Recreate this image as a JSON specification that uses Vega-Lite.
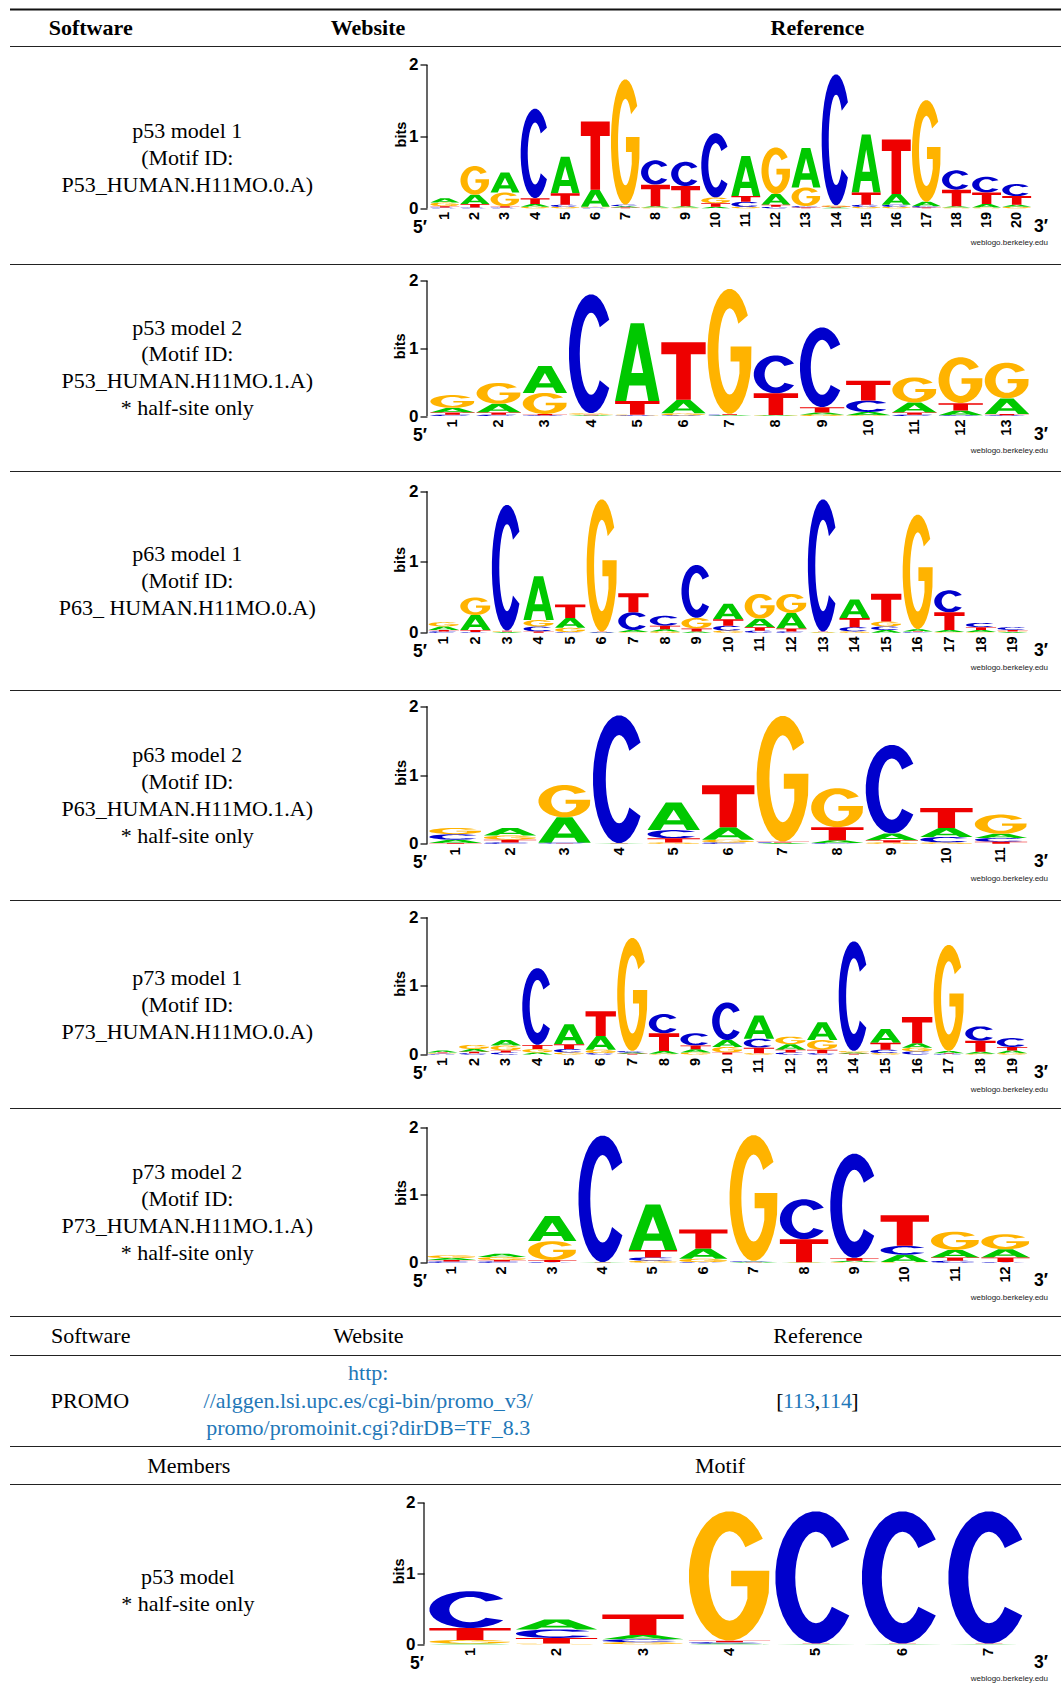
{
"$schema": "https://vega.github.io/schema/vega-lite/v6.json",
"padding": {"left": 9, "top": 8.5, "right": 0, "bottom": 0},
"background": "white",
"config": {"view": {"stroke": null}},
"datasets": {
"glyphs": [
{"letter": "A", "u": [0,0.35,0.65,1,0.75,0.685,0.315,0.367,0.633,0.5,0.367,0.315,0.25,0], "v": [0,1,1,0,0,0.2,0.2,0.36,0.36,0.74,0.36,0.2,0,0]},
{"letter": "T", "u": [0,1,1,0.665,0.665,0.335,0.335,0,0], "v": [1,1,0.79,0.79,0,0,0.79,0.79,1]},
{"letter": "C",
 "u": [0.9096,0.8536,0.7868,0.7113,0.6294,0.5436,0.4564,0.3706,0.2887,0.2132,0.1464,0.0904,0.0468,0.0170,0.0019,0.0019,0.0170,0.0468,0.0904,0.1464,0.2132,0.2887,0.3706,0.4564,0.5436,0.6294,0.7113,0.7868,0.8536,0.9096,0.6953,0.6639,0.6275,0.5872,0.5443,0.5,0.4557,0.4128,0.3725,0.3361,0.3047,0.2792,0.2604,0.2489,0.245,0.2489,0.2604,0.2792,0.3047,0.3361,0.3725,0.4128,0.4557,0.5,0.5443,0.5872,0.6275,0.6639,0.6953],
 "v": [0.7868,0.8536,0.9096,0.9532,0.9830,0.9981,0.9981,0.9830,0.9532,0.9096,0.8536,0.7868,0.7113,0.6294,0.5436,0.4564,0.3706,0.2887,0.2132,0.1464,0.0904,0.0468,0.0170,0.0019,0.0019,0.0170,0.0468,0.0904,0.1464,0.2132,0.2782,0.2357,0.2012,0.1758,0.1602,0.155,0.1602,0.1758,0.2012,0.2357,0.2782,0.3275,0.3820,0.4401,0.5,0.5599,0.6180,0.6725,0.7218,0.7643,0.7988,0.8242,0.8398,0.845,0.8398,0.8242,0.7988,0.7643,0.7218]},
{"letter": "G",
 "u": [0.9096,0.8536,0.7868,0.7113,0.6294,0.5436,0.4564,0.3706,0.2887,0.2132,0.1464,0.0904,0.0468,0.0170,0.0019,0.0019,0.0170,0.0468,0.0904,0.1464,0.2132,0.2887,0.3706,0.4564,0.5436,0.6294,0.7113,0.7868,0.8536,0.9096,0.9532,0.9830,0.99,0.52,0.52,0.72,0.72,0.6953,0.6639,0.6275,0.5872,0.5443,0.5,0.4557,0.4128,0.3725,0.3361,0.3047,0.2792,0.2604,0.2489,0.245,0.2489,0.2604,0.2792,0.3047,0.3361,0.3725,0.4128,0.4557,0.5,0.5443,0.5872,0.6275,0.6639,0.6953],
 "v": [0.7868,0.8536,0.9096,0.9532,0.9830,0.9981,0.9981,0.9830,0.9532,0.9096,0.8536,0.7868,0.7113,0.6294,0.5436,0.4564,0.3706,0.2887,0.2132,0.1464,0.0904,0.0468,0.0170,0.0019,0.0019,0.0170,0.0468,0.0904,0.1464,0.2132,0.2887,0.3706,0.54,0.54,0.42,0.42,0.325,0.2782,0.2357,0.2012,0.1758,0.1602,0.155,0.1602,0.1758,0.2012,0.2357,0.2782,0.3275,0.3820,0.4401,0.5,0.5599,0.6180,0.6725,0.7218,0.7643,0.7988,0.8242,0.8398,0.845,0.8398,0.8242,0.7988,0.7643,0.7218]}
],
"logos": [
{"logo":1,"pos":1,"A":0.06,"C":0.01,"G":0.05,"T":0.02},
{"logo":1,"pos":2,"A":0.13,"C":0.01,"G":0.40,"T":0.05},
{"logo":1,"pos":3,"A":0.28,"C":0.01,"G":0.19,"T":0.02},
{"logo":1,"pos":4,"A":0.04,"C":1.25,"G":0.02,"T":0.08},
{"logo":1,"pos":5,"A":0.51,"C":0.03,"G":0.02,"T":0.16},
{"logo":1,"pos":6,"A":0.24,"C":0.01,"G":0.01,"T":0.95},
{"logo":1,"pos":7,"A":0.02,"C":0.02,"G":1.75,"T":0.01},
{"logo":1,"pos":8,"A":0.02,"C":0.34,"G":0.01,"T":0.30},
{"logo":1,"pos":9,"A":0.02,"C":0.34,"G":0.01,"T":0.28},
{"logo":1,"pos":10,"A":0.02,"C":0.90,"G":0.08,"T":0.05},
{"logo":1,"pos":11,"A":0.56,"C":0.07,"G":0.02,"T":0.08},
{"logo":1,"pos":12,"A":0.15,"C":0.02,"G":0.65,"T":0.03},
{"logo":1,"pos":13,"A":0.55,"C":0.02,"G":0.26,"T":0.01},
{"logo":1,"pos":14,"A":0.01,"C":1.83,"G":0.02,"T":0.01},
{"logo":1,"pos":15,"A":0.81,"C":0.03,"G":0.02,"T":0.17},
{"logo":1,"pos":16,"A":0.15,"C":0.03,"G":0.02,"T":0.76},
{"logo":1,"pos":17,"A":0.06,"C":0.02,"G":1.42,"T":0.01},
{"logo":1,"pos":18,"A":0.02,"C":0.27,"G":0.01,"T":0.23},
{"logo":1,"pos":19,"A":0.05,"C":0.22,"G":0.01,"T":0.16},
{"logo":1,"pos":20,"A":0.03,"C":0.17,"G":0.02,"T":0.12},
{"logo":2,"pos":1,"A":0.07,"C":0.02,"G":0.19,"T":0.03},
{"logo":2,"pos":2,"A":0.13,"C":0.02,"G":0.31,"T":0.03},
{"logo":2,"pos":3,"A":0.40,"C":0.01,"G":0.31,"T":0.02},
{"logo":2,"pos":4,"A":0.01,"C":1.76,"G":0.02,"T":0.01},
{"logo":2,"pos":5,"A":1.15,"C":0.01,"G":0.01,"T":0.20},
{"logo":2,"pos":6,"A":0.20,"C":0.01,"G":0.03,"T":0.85},
{"logo":2,"pos":7,"A":0.01,"C":0.01,"G":1.85,"T":0.01},
{"logo":2,"pos":8,"A":0.01,"C":0.56,"G":0.005,"T":0.32},
{"logo":2,"pos":9,"A":0.03,"C":1.18,"G":0.02,"T":0.08},
{"logo":2,"pos":10,"A":0.05,"C":0.17,"G":0.01,"T":0.29},
{"logo":2,"pos":11,"A":0.15,"C":0.02,"G":0.37,"T":0.03},
{"logo":2,"pos":12,"A":0.07,"C":0.01,"G":0.68,"T":0.11},
{"logo":2,"pos":13,"A":0.23,"C":0.01,"G":0.53,"T":0.02},
{"logo":3,"pos":1,"A":0.05,"C":0.02,"G":0.06,"T":0.02},
{"logo":3,"pos":2,"A":0.21,"C":0.01,"G":0.25,"T":0.03},
{"logo":3,"pos":3,"A":0.01,"C":1.78,"G":0.01,"T":0.01},
{"logo":3,"pos":4,"A":0.62,"C":0.07,"G":0.09,"T":0.02},
{"logo":3,"pos":5,"A":0.14,"C":0.01,"G":0.06,"T":0.19},
{"logo":3,"pos":6,"A":0.005,"C":0.005,"G":1.87,"T":0.005},
{"logo":3,"pos":7,"A":0.03,"C":0.25,"G":0.01,"T":0.27},
{"logo":3,"pos":8,"A":0.03,"C":0.14,"G":0.02,"T":0.05},
{"logo":3,"pos":9,"A":0.02,"C":0.75,"G":0.15,"T":0.04},
{"logo":3,"pos":10,"A":0.22,"C":0.07,"G":0.03,"T":0.09},
{"logo":3,"pos":11,"A":0.12,"C":0.03,"G":0.35,"T":0.05},
{"logo":3,"pos":12,"A":0.22,"C":0.02,"G":0.27,"T":0.04},
{"logo":3,"pos":13,"A":0.005,"C":1.87,"G":0.005,"T":0.005},
{"logo":3,"pos":14,"A":0.26,"C":0.06,"G":0.02,"T":0.13},
{"logo":3,"pos":15,"A":0.04,"C":0.05,"G":0.07,"T":0.39},
{"logo":3,"pos":16,"A":0.03,"C":0.01,"G":1.62,"T":0.01},
{"logo":3,"pos":17,"A":0.03,"C":0.31,"G":0.01,"T":0.25},
{"logo":3,"pos":18,"A":0.03,"C":0.06,"G":0.01,"T":0.04},
{"logo":3,"pos":19,"A":0.01,"C":0.04,"G":0.01,"T":0.02},
{"logo":4,"pos":1,"A":0.05,"C":0.08,"G":0.09,"T":0.01},
{"logo":4,"pos":2,"A":0.11,"C":0.02,"G":0.06,"T":0.04},
{"logo":4,"pos":3,"A":0.37,"C":0.01,"G":0.47,"T":0.005},
{"logo":4,"pos":4,"A":0.003,"C":1.86,"G":0.003,"T":0.003},
{"logo":4,"pos":5,"A":0.40,"C":0.12,"G":0.02,"T":0.06},
{"logo":4,"pos":6,"A":0.18,"C":0.02,"G":0.04,"T":0.61},
{"logo":4,"pos":7,"A":0.01,"C":0.01,"G":1.83,"T":0.01},
{"logo":4,"pos":8,"A":0.04,"C":0.01,"G":0.57,"T":0.19},
{"logo":4,"pos":9,"A":0.10,"C":1.29,"G":0.02,"T":0.03},
{"logo":4,"pos":10,"A":0.13,"C":0.08,"G":0.02,"T":0.29},
{"logo":4,"pos":11,"A":0.06,"C":0.055,"G":0.28,"T":0.03},
{"logo":5,"pos":1,"A":0.03,"C":0.01,"G":0.01,"T":0.01},
{"logo":5,"pos":2,"A":0.04,"C":0.02,"G":0.06,"T":0.02},
{"logo":5,"pos":3,"A":0.08,"C":0.03,"G":0.07,"T":0.03},
{"logo":5,"pos":4,"A":0.03,"C":1.12,"G":0.05,"T":0.06},
{"logo":5,"pos":5,"A":0.29,"C":0.05,"G":0.03,"T":0.07},
{"logo":5,"pos":6,"A":0.20,"C":0.02,"G":0.05,"T":0.36},
{"logo":5,"pos":7,"A":0.02,"C":0.02,"G":1.65,"T":0.01},
{"logo":5,"pos":8,"A":0.04,"C":0.28,"G":0.01,"T":0.26},
{"logo":5,"pos":9,"A":0.045,"C":0.18,"G":0.03,"T":0.055},
{"logo":5,"pos":10,"A":0.10,"C":0.55,"G":0.08,"T":0.03},
{"logo":5,"pos":11,"A":0.34,"C":0.13,"G":0.02,"T":0.08},
{"logo":5,"pos":12,"A":0.08,"C":0.03,"G":0.11,"T":0.04},
{"logo":5,"pos":13,"A":0.26,"C":0.02,"G":0.14,"T":0.05},
{"logo":5,"pos":14,"A":0.02,"C":1.60,"G":0.02,"T":0.01},
{"logo":5,"pos":15,"A":0.20,"C":0.05,"G":0.02,"T":0.10},
{"logo":5,"pos":16,"A":0.065,"C":0.045,"G":0.055,"T":0.38},
{"logo":5,"pos":17,"A":0.03,"C":0.01,"G":1.55,"T":0.01},
{"logo":5,"pos":18,"A":0.03,"C":0.21,"G":0.01,"T":0.16},
{"logo":5,"pos":19,"A":0.04,"C":0.13,"G":0.02,"T":0.05},
{"logo":6,"pos":1,"A":0.03,"C":0.02,"G":0.04,"T":0.02},
{"logo":6,"pos":2,"A":0.05,"C":0.02,"G":0.045,"T":0.02},
{"logo":6,"pos":3,"A":0.37,"C":0.01,"G":0.28,"T":0.03},
{"logo":6,"pos":4,"A":0.003,"C":1.87,"G":0.003,"T":0.003},
{"logo":6,"pos":5,"A":0.67,"C":0.05,"G":0.03,"T":0.11},
{"logo":6,"pos":6,"A":0.15,"C":0.01,"G":0.05,"T":0.28},
{"logo":6,"pos":7,"A":0.01,"C":0.01,"G":1.86,"T":0.005},
{"logo":6,"pos":8,"A":0.005,"C":0.59,"G":0.003,"T":0.34},
{"logo":6,"pos":9,"A":0.02,"C":1.54,"G":0.01,"T":0.04},
{"logo":6,"pos":10,"A":0.11,"C":0.13,"G":0.01,"T":0.45},
{"logo":6,"pos":11,"A":0.11,"C":0.03,"G":0.27,"T":0.05},
{"logo":6,"pos":12,"A":0.12,"C":0.01,"G":0.22,"T":0.07},
{"logo":7,"pos":1,"A":0.01,"C":0.52,"G":0.05,"T":0.17},
{"logo":7,"pos":2,"A":0.14,"C":0.12,"G":0.01,"T":0.08},
{"logo":7,"pos":3,"A":0.06,"C":0.04,"G":0.03,"T":0.29},
{"logo":7,"pos":4,"A":0.01,"C":0.02,"G":1.83,"T":0.02},
{"logo":7,"pos":5,"A":0.003,"C":1.87,"G":0.003,"T":0.003},
{"logo":7,"pos":6,"A":0.003,"C":1.87,"G":0.003,"T":0.003},
{"logo":7,"pos":7,"A":0.003,"C":1.87,"G":0.003,"T":0.003}
]
},
"spacing": 0,
"vconcat": [
{"width": 1052, "height": 2, "data": {"values": [{}]}, "mark": {"type": "rule", "color": "#111", "strokeWidth": 1.8}, "encoding": {"y": {"datum": 0, "type": "quantitative", "scale": {"domain": [-1, 1]}, "axis": null}}},
{"width": 1052, "height": 35, "data": {"values": [{"c1": "Software", "c2": "Website", "c3": "Reference"}]},
 "encoding": {"y": {"datum": 0.5, "type": "quantitative", "scale": {"domain": [0, 1]}, "axis": null}},
 "layer": [
  {"mark": {"type": "text", "font": "Liberation Serif", "fontSize": 22, "fontWeight": "bold", "align": "center", "baseline": "middle", "color": "#000"}, "encoding": {"text": {"field": "c1"}, "x": {"datum": 7.67, "type": "quantitative", "scale": {"domain": [0, 100]}, "axis": null}}},
  {"mark": {"type": "text", "font": "Liberation Serif", "fontSize": 22, "fontWeight": "bold", "align": "center", "baseline": "middle", "color": "#000"}, "encoding": {"text": {"field": "c2"}, "x": {"datum": 34.03, "type": "quantitative", "scale": {"domain": [0, 100]}, "axis": null}}},
  {"mark": {"type": "text", "font": "Liberation Serif", "fontSize": 22, "fontWeight": "bold", "align": "center", "baseline": "middle", "color": "#000"}, "encoding": {"text": {"field": "c3"}, "x": {"datum": 76.75, "type": "quantitative", "scale": {"domain": [0, 100]}, "axis": null}}}
 ]},
{"width": 1052, "height": 2, "data": {"values": [{}]}, "mark": {"type": "rule", "color": "#222", "strokeWidth": 1.2}, "encoding": {"y": {"datum": 0, "type": "quantitative", "scale": {"domain": [-1, 1]}, "axis": null}}},
{"hconcat": [
 {"width": 417, "height": 216, "data": {"values": [{"label": "p53 model 1\n(Motif ID:\nP53_HUMAN.H11MO.0.A)"}]}, "mark": {"type": "text", "font": "Liberation Serif", "fontSize": 22, "lineHeight": 27, "lineBreak": "\n", "align": "center", "baseline": "middle", "color": "#000", "dy": -25}, "encoding": {"text": {"field": "label"}, "x": {"datum": 16.85, "type": "quantitative", "scale": {"domain": [0, 39.64]}, "axis": null}, "y": {"datum": 0.5, "type": "quantitative", "scale": {"domain": [0, 1]}, "axis": null}}},
 {"width": 624, "height": 160.8,
  "encoding": {
    "x": {"type": "quantitative", "scale": {"domain": [0.409, 21.14], "nice": false, "zero": false}, "axis": {"values": [1,2,3,4,5,6,7,8,9,10,11,12,13,14,15,16,17,18,19,20], "format": "d", "labelAngle": 270, "labelAlign": "right", "labelBaseline": "middle", "labelFont": "Liberation Sans", "labelFontWeight": "bold", "labelFontSize": 14.5, "labelColor": "#000", "labelPadding": 3, "ticks": false, "tickSize": 0, "domain": false, "grid": false, "title": null, "labelFlush": false, "labelOverlap": false, "labelSeparation": -100, "labelBound": false}},
    "y": {"type": "quantitative", "scale": {"domain": [0, 2.244], "nice": false, "zero": false}, "axis": {"values": [0,1,2], "format": "d", "labelFont": "Liberation Sans", "labelFontWeight": "bold", "labelFontSize": 17, "labelColor": "#000", "labelPadding": 2, "tickSize": 7, "tickColor": "#000", "tickWidth": 1.2, "domain": false, "grid": false, "title": null, "labelFlush": false, "labelOverlap": false}}
  },
  "layer": [
  {"data": {"name": "logos"}, "transform": [{"filter": "datum.logo == 1"}, {"fold": ["A","C","G","T"], "as": ["letter","bits"]}, {"stack": "bits", "groupby": ["pos"], "sort": [{"field": "bits", "order": "ascending"}], "as": ["y0","y1"]}, {"lookup": "letter", "from": {"data": {"name": "glyphs"}, "key": "letter", "fields": ["u","v"]}}, {"flatten": ["u","v"]}, {"calculate": "datum.pos + (datum.u - 0.5) * 0.96", "as": "gx"}, {"calculate": "datum.y0 + datum.v * (datum.y1 - datum.y0)", "as": "gy"}],
   "mark": {"type": "line", "filled": true, "strokeWidth": 0, "opacity": 1, "fillOpacity": 1},
   "encoding": {
    "x": {"field": "gx"},
    "y": {"field": "gy"},
    "color": {"field": "letter", "type": "nominal", "scale": {"domain": ["A","C","G","T"], "range": ["#00C800","#0000CC","#FFB300","#EE0000"]}, "legend": null},
    "detail": [{"field": "pos", "type": "nominal"}, {"field": "letter", "type": "nominal"}],
    "order": {"value": null}}},
  {"data": {"values": [{}]}, "mark": {"type": "rule", "color": "#000", "strokeWidth": 1.2}, "encoding": {"x": {"datum": 0.409}, "y": {"datum": 0}, "y2": {"datum": 2}}},
  {"data": {"values": [{}]}, "mark": {"type": "text", "text": "bits", "angle": 270, "font": "Liberation Sans", "fontWeight": "bold", "fontSize": 14.5, "align": "center", "baseline": "middle", "color": "#000"}, "encoding": {"x": {"datum": -0.438}, "y": {"datum": 1.03}}},
  {"data": {"values": [{}]}, "mark": {"type": "text", "text": "5\u2032", "font": "Liberation Sans", "fontWeight": "bold", "fontSize": 17.5, "align": "right", "baseline": "middle", "dy": 19.5, "color": "#000"}, "encoding": {"x": {"datum": 0.409}, "y": {"datum": 0}}},
  {"data": {"values": [{}]}, "mark": {"type": "text", "text": "3\u2032", "font": "Liberation Sans", "fontWeight": "bold", "fontSize": 17.5, "align": "right", "baseline": "middle", "dx": -3, "dy": 18.5, "color": "#000"}, "encoding": {"x": {"datum": 21.14}, "y": {"datum": 0}}},
  {"data": {"values": [{}]}, "mark": {"type": "text", "text": "weblogo.berkeley.edu", "font": "Liberation Sans", "fontSize": 8, "align": "right", "baseline": "middle", "dx": -3, "dy": 35, "color": "#222"}, "encoding": {"x": {"datum": 21.14}, "y": {"datum": 0}}}
 ]}
], "spacing": 0, "bounds": "flush"},
{"width": 1052, "height": 2, "data": {"values": [{}]}, "mark": {"type": "rule", "color": "#222", "strokeWidth": 1.2}, "encoding": {"y": {"datum": 0, "type": "quantitative", "scale": {"domain": [-1, 1]}, "axis": null}}},
{"hconcat": [
 {"width": 417, "height": 204.5, "data": {"values": [{"label": "p53 model 2\n(Motif ID:\nP53_HUMAN.H11MO.1.A)\n* half-site only"}]}, "mark": {"type": "text", "font": "Liberation Serif", "fontSize": 22, "lineHeight": 26.8, "lineBreak": "\n", "align": "center", "baseline": "middle", "color": "#000", "dy": -40.2}, "encoding": {"text": {"field": "label"}, "x": {"datum": 16.85, "type": "quantitative", "scale": {"domain": [0, 39.64]}, "axis": null}, "y": {"datum": 0.5, "type": "quantitative", "scale": {"domain": [0, 1]}, "axis": null}}},
 {"width": 624, "height": 150.5,
  "encoding": {
    "x": {"type": "quantitative", "scale": {"domain": [0.448, 13.955], "nice": false, "zero": false}, "axis": {"values": [1,2,3,4,5,6,7,8,9,10,11,12,13], "format": "d", "labelAngle": 270, "labelAlign": "right", "labelBaseline": "middle", "labelFont": "Liberation Sans", "labelFontWeight": "bold", "labelFontSize": 14.5, "labelColor": "#000", "labelPadding": 3, "ticks": false, "tickSize": 0, "domain": false, "grid": false, "title": null, "labelFlush": false, "labelOverlap": false, "labelSeparation": -100, "labelBound": false}},
    "y": {"type": "quantitative", "scale": {"domain": [0, 2.225], "nice": false, "zero": false}, "axis": {"values": [0,1,2], "format": "d", "labelFont": "Liberation Sans", "labelFontWeight": "bold", "labelFontSize": 17, "labelColor": "#000", "labelPadding": 2, "tickSize": 7, "tickColor": "#000", "tickWidth": 1.2, "domain": false, "grid": false, "title": null, "labelFlush": false, "labelOverlap": false}}
  },
  "layer": [
  {"data": {"name": "logos"}, "transform": [{"filter": "datum.logo == 2"}, {"fold": ["A","C","G","T"], "as": ["letter","bits"]}, {"stack": "bits", "groupby": ["pos"], "sort": [{"field": "bits", "order": "ascending"}], "as": ["y0","y1"]}, {"lookup": "letter", "from": {"data": {"name": "glyphs"}, "key": "letter", "fields": ["u","v"]}}, {"flatten": ["u","v"]}, {"calculate": "datum.pos + (datum.u - 0.5) * 0.96", "as": "gx"}, {"calculate": "datum.y0 + datum.v * (datum.y1 - datum.y0)", "as": "gy"}],
   "mark": {"type": "line", "filled": true, "strokeWidth": 0, "opacity": 1, "fillOpacity": 1},
   "encoding": {
    "x": {"field": "gx"},
    "y": {"field": "gy"},
    "color": {"field": "letter", "type": "nominal", "scale": {"domain": ["A","C","G","T"], "range": ["#00C800","#0000CC","#FFB300","#EE0000"]}, "legend": null},
    "detail": [{"field": "pos", "type": "nominal"}, {"field": "letter", "type": "nominal"}],
    "order": {"value": null}}},
  {"data": {"values": [{}]}, "mark": {"type": "rule", "color": "#000", "strokeWidth": 1.2}, "encoding": {"x": {"datum": 0.448}, "y": {"datum": 0}, "y2": {"datum": 2}}},
  {"data": {"values": [{}]}, "mark": {"type": "text", "text": "bits", "angle": 270, "font": "Liberation Sans", "fontWeight": "bold", "fontSize": 14.5, "align": "center", "baseline": "middle", "color": "#000"}, "encoding": {"x": {"datum": -0.104}, "y": {"datum": 1.03}}},
  {"data": {"values": [{}]}, "mark": {"type": "text", "text": "5\u2032", "font": "Liberation Sans", "fontWeight": "bold", "fontSize": 17.5, "align": "right", "baseline": "middle", "dy": 19.5, "color": "#000"}, "encoding": {"x": {"datum": 0.448}, "y": {"datum": 0}}},
  {"data": {"values": [{}]}, "mark": {"type": "text", "text": "3\u2032", "font": "Liberation Sans", "fontWeight": "bold", "fontSize": 17.5, "align": "right", "baseline": "middle", "dx": -3, "dy": 18.5, "color": "#000"}, "encoding": {"x": {"datum": 13.955}, "y": {"datum": 0}}},
  {"data": {"values": [{}]}, "mark": {"type": "text", "text": "weblogo.berkeley.edu", "font": "Liberation Sans", "fontSize": 8, "align": "right", "baseline": "middle", "dx": -3, "dy": 35, "color": "#222"}, "encoding": {"x": {"datum": 13.955}, "y": {"datum": 0}}}
 ]}
], "spacing": 0, "bounds": "flush"},
{"width": 1052, "height": 2, "data": {"values": [{}]}, "mark": {"type": "rule", "color": "#222", "strokeWidth": 1.2}, "encoding": {"y": {"datum": 0, "type": "quantitative", "scale": {"domain": [-1, 1]}, "axis": null}}},
{"hconcat": [
 {"width": 417, "height": 217, "data": {"values": [{"label": "p63 model 1\n(Motif ID:\nP63_ HUMAN.H11MO.0.A)"}]}, "mark": {"type": "text", "font": "Liberation Serif", "fontSize": 22, "lineHeight": 27, "lineBreak": "\n", "align": "center", "baseline": "middle", "color": "#000", "dy": -27}, "encoding": {"text": {"field": "label"}, "x": {"datum": 16.85, "type": "quantitative", "scale": {"domain": [0, 39.64]}, "axis": null}, "y": {"datum": 0.5, "type": "quantitative", "scale": {"domain": [0, 1]}, "axis": null}}},
 {"width": 624, "height": 160.3,
  "encoding": {
    "x": {"type": "quantitative", "scale": {"domain": [0.468, 20.215], "nice": false, "zero": false}, "axis": {"values": [1,2,3,4,5,6,7,8,9,10,11,12,13,14,15,16,17,18,19], "format": "d", "labelAngle": 270, "labelAlign": "right", "labelBaseline": "middle", "labelFont": "Liberation Sans", "labelFontWeight": "bold", "labelFontSize": 14.5, "labelColor": "#000", "labelPadding": 3, "ticks": false, "tickSize": 0, "domain": false, "grid": false, "title": null, "labelFlush": false, "labelOverlap": false, "labelSeparation": -100, "labelBound": false}},
    "y": {"type": "quantitative", "scale": {"domain": [0, 2.264], "nice": false, "zero": false}, "axis": {"values": [0,1,2], "format": "d", "labelFont": "Liberation Sans", "labelFontWeight": "bold", "labelFontSize": 17, "labelColor": "#000", "labelPadding": 2, "tickSize": 7, "tickColor": "#000", "tickWidth": 1.2, "domain": false, "grid": false, "title": null, "labelFlush": false, "labelOverlap": false}}
  },
  "layer": [
  {"data": {"name": "logos"}, "transform": [{"filter": "datum.logo == 3"}, {"fold": ["A","C","G","T"], "as": ["letter","bits"]}, {"stack": "bits", "groupby": ["pos"], "sort": [{"field": "bits", "order": "ascending"}], "as": ["y0","y1"]}, {"lookup": "letter", "from": {"data": {"name": "glyphs"}, "key": "letter", "fields": ["u","v"]}}, {"flatten": ["u","v"]}, {"calculate": "datum.pos + (datum.u - 0.5) * 0.96", "as": "gx"}, {"calculate": "datum.y0 + datum.v * (datum.y1 - datum.y0)", "as": "gy"}],
   "mark": {"type": "line", "filled": true, "strokeWidth": 0, "opacity": 1, "fillOpacity": 1},
   "encoding": {
    "x": {"field": "gx"},
    "y": {"field": "gy"},
    "color": {"field": "letter", "type": "nominal", "scale": {"domain": ["A","C","G","T"], "range": ["#00C800","#0000CC","#FFB300","#EE0000"]}, "legend": null},
    "detail": [{"field": "pos", "type": "nominal"}, {"field": "letter", "type": "nominal"}],
    "order": {"value": null}}},
  {"data": {"values": [{}]}, "mark": {"type": "rule", "color": "#000", "strokeWidth": 1.2}, "encoding": {"x": {"datum": 0.468}, "y": {"datum": 0}, "y2": {"datum": 2}}},
  {"data": {"values": [{}]}, "mark": {"type": "text", "text": "bits", "angle": 270, "font": "Liberation Sans", "fontWeight": "bold", "fontSize": 14.5, "align": "center", "baseline": "middle", "color": "#000"}, "encoding": {"x": {"datum": -0.339}, "y": {"datum": 1.03}}},
  {"data": {"values": [{}]}, "mark": {"type": "text", "text": "5\u2032", "font": "Liberation Sans", "fontWeight": "bold", "fontSize": 17.5, "align": "right", "baseline": "middle", "dy": 19.5, "color": "#000"}, "encoding": {"x": {"datum": 0.468}, "y": {"datum": 0}}},
  {"data": {"values": [{}]}, "mark": {"type": "text", "text": "3\u2032", "font": "Liberation Sans", "fontWeight": "bold", "fontSize": 17.5, "align": "right", "baseline": "middle", "dx": -3, "dy": 18.5, "color": "#000"}, "encoding": {"x": {"datum": 20.215}, "y": {"datum": 0}}},
  {"data": {"values": [{}]}, "mark": {"type": "text", "text": "weblogo.berkeley.edu", "font": "Liberation Sans", "fontSize": 8, "align": "right", "baseline": "middle", "dx": -3, "dy": 35, "color": "#222"}, "encoding": {"x": {"datum": 20.215}, "y": {"datum": 0}}}
 ]}
], "spacing": 0, "bounds": "flush"},
{"width": 1052, "height": 2, "data": {"values": [{}]}, "mark": {"type": "rule", "color": "#222", "strokeWidth": 1.2}, "encoding": {"y": {"datum": 0, "type": "quantitative", "scale": {"domain": [-1, 1]}, "axis": null}}},
{"hconcat": [
 {"width": 417, "height": 208, "data": {"values": [{"label": "p63 model 2\n(Motif ID:\nP63_HUMAN.H11MO.1.A)\n* half-site only"}]}, "mark": {"type": "text", "font": "Liberation Serif", "fontSize": 22, "lineHeight": 26.8, "lineBreak": "\n", "align": "center", "baseline": "middle", "color": "#000", "dy": -40.2}, "encoding": {"text": {"field": "label"}, "x": {"datum": 16.85, "type": "quantitative", "scale": {"domain": [0, 39.64]}, "axis": null}, "y": {"datum": 0.5, "type": "quantitative", "scale": {"domain": [0, 1]}, "axis": null}}},
 {"width": 624, "height": 152.3,
  "encoding": {
    "x": {"type": "quantitative", "scale": {"domain": [0.478, 11.917], "nice": false, "zero": false}, "axis": {"values": [1,2,3,4,5,6,7,8,9,10,11], "format": "d", "labelAngle": 270, "labelAlign": "right", "labelBaseline": "middle", "labelFont": "Liberation Sans", "labelFontWeight": "bold", "labelFontSize": 14.5, "labelColor": "#000", "labelPadding": 3, "ticks": false, "tickSize": 0, "domain": false, "grid": false, "title": null, "labelFlush": false, "labelOverlap": false, "labelSeparation": -100, "labelBound": false}},
    "y": {"type": "quantitative", "scale": {"domain": [0, 2.214], "nice": false, "zero": false}, "axis": {"values": [0,1,2], "format": "d", "labelFont": "Liberation Sans", "labelFontWeight": "bold", "labelFontSize": 17, "labelColor": "#000", "labelPadding": 2, "tickSize": 7, "tickColor": "#000", "tickWidth": 1.2, "domain": false, "grid": false, "title": null, "labelFlush": false, "labelOverlap": false}}
  },
  "layer": [
  {"data": {"name": "logos"}, "transform": [{"filter": "datum.logo == 4"}, {"fold": ["A","C","G","T"], "as": ["letter","bits"]}, {"stack": "bits", "groupby": ["pos"], "sort": [{"field": "bits", "order": "ascending"}], "as": ["y0","y1"]}, {"lookup": "letter", "from": {"data": {"name": "glyphs"}, "key": "letter", "fields": ["u","v"]}}, {"flatten": ["u","v"]}, {"calculate": "datum.pos + (datum.u - 0.5) * 0.96", "as": "gx"}, {"calculate": "datum.y0 + datum.v * (datum.y1 - datum.y0)", "as": "gy"}],
   "mark": {"type": "line", "filled": true, "strokeWidth": 0, "opacity": 1, "fillOpacity": 1},
   "encoding": {
    "x": {"field": "gx"},
    "y": {"field": "gy"},
    "color": {"field": "letter", "type": "nominal", "scale": {"domain": ["A","C","G","T"], "range": ["#00C800","#0000CC","#FFB300","#EE0000"]}, "legend": null},
    "detail": [{"field": "pos", "type": "nominal"}, {"field": "letter", "type": "nominal"}],
    "order": {"value": null}}},
  {"data": {"values": [{}]}, "mark": {"type": "rule", "color": "#000", "strokeWidth": 1.2}, "encoding": {"x": {"datum": 0.478}, "y": {"datum": 0}, "y2": {"datum": 2}}},
  {"data": {"values": [{}]}, "mark": {"type": "text", "text": "bits", "angle": 270, "font": "Liberation Sans", "fontWeight": "bold", "fontSize": 14.5, "align": "center", "baseline": "middle", "color": "#000"}, "encoding": {"x": {"datum": 0.011}, "y": {"datum": 1.03}}},
  {"data": {"values": [{}]}, "mark": {"type": "text", "text": "5\u2032", "font": "Liberation Sans", "fontWeight": "bold", "fontSize": 17.5, "align": "right", "baseline": "middle", "dy": 19.5, "color": "#000"}, "encoding": {"x": {"datum": 0.478}, "y": {"datum": 0}}},
  {"data": {"values": [{}]}, "mark": {"type": "text", "text": "3\u2032", "font": "Liberation Sans", "fontWeight": "bold", "fontSize": 17.5, "align": "right", "baseline": "middle", "dx": -3, "dy": 18.5, "color": "#000"}, "encoding": {"x": {"datum": 11.917}, "y": {"datum": 0}}},
  {"data": {"values": [{}]}, "mark": {"type": "text", "text": "weblogo.berkeley.edu", "font": "Liberation Sans", "fontSize": 8, "align": "right", "baseline": "middle", "dx": -3, "dy": 35, "color": "#222"}, "encoding": {"x": {"datum": 11.917}, "y": {"datum": 0}}}
 ]}
], "spacing": 0, "bounds": "flush"},
{"width": 1052, "height": 2, "data": {"values": [{}]}, "mark": {"type": "rule", "color": "#222", "strokeWidth": 1.2}, "encoding": {"y": {"datum": 0, "type": "quantitative", "scale": {"domain": [-1, 1]}, "axis": null}}},
{"hconcat": [
 {"width": 417, "height": 206, "data": {"values": [{"label": "p73 model 1\n(Motif ID:\nP73_HUMAN.H11MO.0.A)"}]}, "mark": {"type": "text", "font": "Liberation Serif", "fontSize": 22, "lineHeight": 27, "lineBreak": "\n", "align": "center", "baseline": "middle", "color": "#000", "dy": -27}, "encoding": {"text": {"field": "label"}, "x": {"datum": 16.85, "type": "quantitative", "scale": {"domain": [0, 39.64]}, "axis": null}, "y": {"datum": 0.5, "type": "quantitative", "scale": {"domain": [0, 1]}, "axis": null}}},
 {"width": 624, "height": 153,
  "encoding": {
    "x": {"type": "quantitative", "scale": {"domain": [0.51, 20.23], "nice": false, "zero": false}, "axis": {"values": [1,2,3,4,5,6,7,8,9,10,11,12,13,14,15,16,17,18,19], "format": "d", "labelAngle": 270, "labelAlign": "right", "labelBaseline": "middle", "labelFont": "Liberation Sans", "labelFontWeight": "bold", "labelFontSize": 14.5, "labelColor": "#000", "labelPadding": 3, "ticks": false, "tickSize": 0, "domain": false, "grid": false, "title": null, "labelFlush": false, "labelOverlap": false, "labelSeparation": -100, "labelBound": false}},
    "y": {"type": "quantitative", "scale": {"domain": [0, 2.229], "nice": false, "zero": false}, "axis": {"values": [0,1,2], "format": "d", "labelFont": "Liberation Sans", "labelFontWeight": "bold", "labelFontSize": 17, "labelColor": "#000", "labelPadding": 2, "tickSize": 7, "tickColor": "#000", "tickWidth": 1.2, "domain": false, "grid": false, "title": null, "labelFlush": false, "labelOverlap": false}}
  },
  "layer": [
  {"data": {"name": "logos"}, "transform": [{"filter": "datum.logo == 5"}, {"fold": ["A","C","G","T"], "as": ["letter","bits"]}, {"stack": "bits", "groupby": ["pos"], "sort": [{"field": "bits", "order": "ascending"}], "as": ["y0","y1"]}, {"lookup": "letter", "from": {"data": {"name": "glyphs"}, "key": "letter", "fields": ["u","v"]}}, {"flatten": ["u","v"]}, {"calculate": "datum.pos + (datum.u - 0.5) * 0.96", "as": "gx"}, {"calculate": "datum.y0 + datum.v * (datum.y1 - datum.y0)", "as": "gy"}],
   "mark": {"type": "line", "filled": true, "strokeWidth": 0, "opacity": 1, "fillOpacity": 1},
   "encoding": {
    "x": {"field": "gx"},
    "y": {"field": "gy"},
    "color": {"field": "letter", "type": "nominal", "scale": {"domain": ["A","C","G","T"], "range": ["#00C800","#0000CC","#FFB300","#EE0000"]}, "legend": null},
    "detail": [{"field": "pos", "type": "nominal"}, {"field": "letter", "type": "nominal"}],
    "order": {"value": null}}},
  {"data": {"values": [{}]}, "mark": {"type": "rule", "color": "#000", "strokeWidth": 1.2}, "encoding": {"x": {"datum": 0.51}, "y": {"datum": 0}, "y2": {"datum": 2}}},
  {"data": {"values": [{}]}, "mark": {"type": "text", "text": "bits", "angle": 270, "font": "Liberation Sans", "fontWeight": "bold", "fontSize": 14.5, "align": "center", "baseline": "middle", "color": "#000"}, "encoding": {"x": {"datum": -0.296}, "y": {"datum": 1.03}}},
  {"data": {"values": [{}]}, "mark": {"type": "text", "text": "5\u2032", "font": "Liberation Sans", "fontWeight": "bold", "fontSize": 17.5, "align": "right", "baseline": "middle", "dy": 19.5, "color": "#000"}, "encoding": {"x": {"datum": 0.51}, "y": {"datum": 0}}},
  {"data": {"values": [{}]}, "mark": {"type": "text", "text": "3\u2032", "font": "Liberation Sans", "fontWeight": "bold", "fontSize": 17.5, "align": "right", "baseline": "middle", "dx": -3, "dy": 18.5, "color": "#000"}, "encoding": {"x": {"datum": 20.23}, "y": {"datum": 0}}},
  {"data": {"values": [{}]}, "mark": {"type": "text", "text": "weblogo.berkeley.edu", "font": "Liberation Sans", "fontSize": 8, "align": "right", "baseline": "middle", "dx": -3, "dy": 35, "color": "#222"}, "encoding": {"x": {"datum": 20.23}, "y": {"datum": 0}}}
 ]}
], "spacing": 0, "bounds": "flush"},
{"width": 1052, "height": 2, "data": {"values": [{}]}, "mark": {"type": "rule", "color": "#222", "strokeWidth": 1.2}, "encoding": {"y": {"datum": 0, "type": "quantitative", "scale": {"domain": [-1, 1]}, "axis": null}}},
{"hconcat": [
 {"width": 417, "height": 206, "data": {"values": [{"label": "p73 model 2\n(Motif ID:\nP73_HUMAN.H11MO.1.A)\n* half-site only"}]}, "mark": {"type": "text", "font": "Liberation Serif", "fontSize": 22, "lineHeight": 26.8, "lineBreak": "\n", "align": "center", "baseline": "middle", "color": "#000", "dy": -40.2}, "encoding": {"text": {"field": "label"}, "x": {"datum": 16.85, "type": "quantitative", "scale": {"domain": [0, 39.64]}, "axis": null}, "y": {"datum": 0.5, "type": "quantitative", "scale": {"domain": [0, 1]}, "axis": null}}},
 {"width": 624, "height": 153.3,
  "encoding": {
    "x": {"type": "quantitative", "scale": {"domain": [0.513, 12.904], "nice": false, "zero": false}, "axis": {"values": [1,2,3,4,5,6,7,8,9,10,11,12], "format": "d", "labelAngle": 270, "labelAlign": "right", "labelBaseline": "middle", "labelFont": "Liberation Sans", "labelFontWeight": "bold", "labelFontSize": 14.5, "labelColor": "#000", "labelPadding": 3, "ticks": false, "tickSize": 0, "domain": false, "grid": false, "title": null, "labelFlush": false, "labelOverlap": false, "labelSeparation": -100, "labelBound": false}},
    "y": {"type": "quantitative", "scale": {"domain": [0, 2.261], "nice": false, "zero": false}, "axis": {"values": [0,1,2], "format": "d", "labelFont": "Liberation Sans", "labelFontWeight": "bold", "labelFontSize": 17, "labelColor": "#000", "labelPadding": 2, "tickSize": 7, "tickColor": "#000", "tickWidth": 1.2, "domain": false, "grid": false, "title": null, "labelFlush": false, "labelOverlap": false}}
  },
  "layer": [
  {"data": {"name": "logos"}, "transform": [{"filter": "datum.logo == 6"}, {"fold": ["A","C","G","T"], "as": ["letter","bits"]}, {"stack": "bits", "groupby": ["pos"], "sort": [{"field": "bits", "order": "ascending"}], "as": ["y0","y1"]}, {"lookup": "letter", "from": {"data": {"name": "glyphs"}, "key": "letter", "fields": ["u","v"]}}, {"flatten": ["u","v"]}, {"calculate": "datum.pos + (datum.u - 0.5) * 0.96", "as": "gx"}, {"calculate": "datum.y0 + datum.v * (datum.y1 - datum.y0)", "as": "gy"}],
   "mark": {"type": "line", "filled": true, "strokeWidth": 0, "opacity": 1, "fillOpacity": 1},
   "encoding": {
    "x": {"field": "gx"},
    "y": {"field": "gy"},
    "color": {"field": "letter", "type": "nominal", "scale": {"domain": ["A","C","G","T"], "range": ["#00C800","#0000CC","#FFB300","#EE0000"]}, "legend": null},
    "detail": [{"field": "pos", "type": "nominal"}, {"field": "letter", "type": "nominal"}],
    "order": {"value": null}}},
  {"data": {"values": [{}]}, "mark": {"type": "rule", "color": "#000", "strokeWidth": 1.2}, "encoding": {"x": {"datum": 0.513}, "y": {"datum": 0}, "y2": {"datum": 2}}},
  {"data": {"values": [{}]}, "mark": {"type": "text", "text": "bits", "angle": 270, "font": "Liberation Sans", "fontWeight": "bold", "fontSize": 14.5, "align": "center", "baseline": "middle", "color": "#000"}, "encoding": {"x": {"datum": 0.007}, "y": {"datum": 1.03}}},
  {"data": {"values": [{}]}, "mark": {"type": "text", "text": "5\u2032", "font": "Liberation Sans", "fontWeight": "bold", "fontSize": 17.5, "align": "right", "baseline": "middle", "dy": 19.5, "color": "#000"}, "encoding": {"x": {"datum": 0.513}, "y": {"datum": 0}}},
  {"data": {"values": [{}]}, "mark": {"type": "text", "text": "3\u2032", "font": "Liberation Sans", "fontWeight": "bold", "fontSize": 17.5, "align": "right", "baseline": "middle", "dx": -3, "dy": 18.5, "color": "#000"}, "encoding": {"x": {"datum": 12.904}, "y": {"datum": 0}}},
  {"data": {"values": [{}]}, "mark": {"type": "text", "text": "weblogo.berkeley.edu", "font": "Liberation Sans", "fontSize": 8, "align": "right", "baseline": "middle", "dx": -3, "dy": 35, "color": "#222"}, "encoding": {"x": {"datum": 12.904}, "y": {"datum": 0}}}
 ]}
], "spacing": 0, "bounds": "flush"},
{"width": 1052, "height": 2, "data": {"values": [{}]}, "mark": {"type": "rule", "color": "#222", "strokeWidth": 1.2}, "encoding": {"y": {"datum": 0, "type": "quantitative", "scale": {"domain": [-1, 1]}, "axis": null}}},
{"width": 1052, "height": 37, "data": {"values": [{"c1": "Software", "c2": "Website", "c3": "Reference"}]},
 "encoding": {"y": {"datum": 0.5, "type": "quantitative", "scale": {"domain": [0, 1]}, "axis": null}},
 "layer": [
  {"mark": {"type": "text", "font": "Liberation Serif", "fontSize": 22, "align": "center", "baseline": "middle", "color": "#000"}, "encoding": {"text": {"field": "c1"}, "x": {"datum": 7.67, "type": "quantitative", "scale": {"domain": [0, 100]}, "axis": null}}},
  {"mark": {"type": "text", "font": "Liberation Serif", "fontSize": 22, "align": "center", "baseline": "middle", "color": "#000"}, "encoding": {"text": {"field": "c2"}, "x": {"datum": 34.07, "type": "quantitative", "scale": {"domain": [0, 100]}, "axis": null}}},
  {"mark": {"type": "text", "font": "Liberation Serif", "fontSize": 22, "align": "center", "baseline": "middle", "color": "#000"}, "encoding": {"text": {"field": "c3"}, "x": {"datum": 76.8, "type": "quantitative", "scale": {"domain": [0, 100]}, "axis": null}}}
 ]},
{"width": 1052, "height": 2, "data": {"values": [{}]}, "mark": {"type": "rule", "color": "#222", "strokeWidth": 1.2}, "encoding": {"y": {"datum": 0, "type": "quantitative", "scale": {"domain": [-1, 1]}, "axis": null}}},
{"width": 1052, "height": 88.5, "data": {"values": [{"sw": "PROMO", "url": "http:\n//alggen.lsi.upc.es/cgi-bin/promo_v3/\npromo/promoinit.cgi?dirDB=TF_8.3", "lb": "[", "r1": "113", "cm": ",", "r2": "114", "rb": "]"}]},
 "encoding": {"y": {"datum": 0.5, "type": "quantitative", "scale": {"domain": [0, 1]}, "axis": null}},
 "layer": [
  {"mark": {"type": "text", "font": "Liberation Serif", "fontSize": 22, "align": "center", "baseline": "middle", "color": "#000"}, "encoding": {"text": {"field": "sw"}, "x": {"datum": 7.6, "type": "quantitative", "scale": {"domain": [0, 100]}, "axis": null}}},
  {"mark": {"type": "text", "font": "Liberation Serif", "fontSize": 22, "lineHeight": 27.5, "lineBreak": "\n", "align": "center", "baseline": "middle", "color": "#1F78B8", "dy": -27.5}, "encoding": {"text": {"field": "url"}, "x": {"datum": 34.05, "type": "quantitative", "scale": {"domain": [0, 100]}, "axis": null}}},
  {"mark": {"type": "text", "font": "Liberation Serif", "fontSize": 22, "align": "center", "baseline": "middle", "color": "#000", "dx": -37.6}, "encoding": {"text": {"field": "lb"}, "x": {"datum": 76.75, "type": "quantitative", "scale": {"domain": [0, 100]}, "axis": null}}},
  {"mark": {"type": "text", "font": "Liberation Serif", "fontSize": 22, "align": "center", "baseline": "middle", "color": "#1F78B8", "dx": -18.4}, "encoding": {"text": {"field": "r1"}, "x": {"datum": 76.75, "type": "quantitative", "scale": {"domain": [0, 100]}, "axis": null}}},
  {"mark": {"type": "text", "font": "Liberation Serif", "fontSize": 22, "align": "center", "baseline": "middle", "color": "#000"}, "encoding": {"text": {"field": "cm"}, "x": {"datum": 76.75, "type": "quantitative", "scale": {"domain": [0, 100]}, "axis": null}}},
  {"mark": {"type": "text", "font": "Liberation Serif", "fontSize": 22, "align": "center", "baseline": "middle", "color": "#1F78B8", "dx": 18.4}, "encoding": {"text": {"field": "r2"}, "x": {"datum": 76.75, "type": "quantitative", "scale": {"domain": [0, 100]}, "axis": null}}},
  {"mark": {"type": "text", "font": "Liberation Serif", "fontSize": 22, "align": "center", "baseline": "middle", "color": "#000", "dx": 37.6}, "encoding": {"text": {"field": "rb"}, "x": {"datum": 76.75, "type": "quantitative", "scale": {"domain": [0, 100]}, "axis": null}}}
 ]},
{"width": 1052, "height": 2, "data": {"values": [{}]}, "mark": {"type": "rule", "color": "#222", "strokeWidth": 1.2}, "encoding": {"y": {"datum": 0, "type": "quantitative", "scale": {"domain": [-1, 1]}, "axis": null}}},
{"width": 1052, "height": 36, "data": {"values": [{"c1": "Members", "c2": "Motif"}]},
 "encoding": {"y": {"datum": 0.5, "type": "quantitative", "scale": {"domain": [0, 1]}, "axis": null}},
 "layer": [
  {"mark": {"type": "text", "font": "Liberation Serif", "fontSize": 22, "align": "center", "baseline": "middle", "color": "#000"}, "encoding": {"text": {"field": "c1"}, "x": {"datum": 17.0, "type": "quantitative", "scale": {"domain": [0, 100]}, "axis": null}}},
  {"mark": {"type": "text", "font": "Liberation Serif", "fontSize": 22, "align": "center", "baseline": "middle", "color": "#000"}, "encoding": {"text": {"field": "c2"}, "x": {"datum": 67.5, "type": "quantitative", "scale": {"domain": [0, 100]}, "axis": null}}}
 ]},
{"width": 1052, "height": 2, "data": {"values": [{}]}, "mark": {"type": "rule", "color": "#222", "strokeWidth": 1.2}, "encoding": {"y": {"datum": 0, "type": "quantitative", "scale": {"domain": [-1, 1]}, "axis": null}}},
{"hconcat": [
 {"width": 414, "height": 206.5, "data": {"values": [{"label": "p53 model\n* half-site only"}]}, "mark": {"type": "text", "font": "Liberation Serif", "fontSize": 22, "lineHeight": 27, "lineBreak": "\n", "align": "center", "baseline": "middle", "color": "#000", "dy": -11.5}, "encoding": {"text": {"field": "label"}, "x": {"datum": 16.9, "type": "quantitative", "scale": {"domain": [0, 39.35]}, "axis": null}, "y": {"datum": 0.5, "type": "quantitative", "scale": {"domain": [0, 1]}, "axis": null}}},
 {"width": 627, "height": 158.8,
  "encoding": {
    "x": {"type": "quantitative", "scale": {"domain": [0.468, 7.717], "nice": false, "zero": false}, "axis": {"values": [1,2,3,4,5,6,7], "format": "d", "labelAngle": 270, "labelAlign": "right", "labelBaseline": "middle", "labelFont": "Liberation Sans", "labelFontWeight": "bold", "labelFontSize": 14.5, "labelColor": "#000", "labelPadding": 3, "ticks": false, "tickSize": 0, "domain": false, "grid": false, "title": null, "labelFlush": false, "labelOverlap": false, "labelSeparation": -100, "labelBound": false}},
    "y": {"type": "quantitative", "scale": {"domain": [0, 2.243], "nice": false, "zero": false}, "axis": {"values": [0,1,2], "format": "d", "labelFont": "Liberation Sans", "labelFontWeight": "bold", "labelFontSize": 17, "labelColor": "#000", "labelPadding": 2, "tickSize": 7, "tickColor": "#000", "tickWidth": 1.2, "domain": false, "grid": false, "title": null, "labelFlush": false, "labelOverlap": false}}
  },
  "layer": [
  {"data": {"name": "logos"}, "transform": [{"filter": "datum.logo == 7"}, {"fold": ["A","C","G","T"], "as": ["letter","bits"]}, {"stack": "bits", "groupby": ["pos"], "sort": [{"field": "bits", "order": "ascending"}], "as": ["y0","y1"]}, {"lookup": "letter", "from": {"data": {"name": "glyphs"}, "key": "letter", "fields": ["u","v"]}}, {"flatten": ["u","v"]}, {"calculate": "datum.pos + (datum.u - 0.5) * 0.94", "as": "gx"}, {"calculate": "datum.y0 + datum.v * (datum.y1 - datum.y0)", "as": "gy"}],
   "mark": {"type": "line", "filled": true, "strokeWidth": 0, "opacity": 1, "fillOpacity": 1},
   "encoding": {
    "x": {"field": "gx"},
    "y": {"field": "gy"},
    "color": {"field": "letter", "type": "nominal", "scale": {"domain": ["A","C","G","T"], "range": ["#00C800","#0000CC","#FFB300","#EE0000"]}, "legend": null},
    "detail": [{"field": "pos", "type": "nominal"}, {"field": "letter", "type": "nominal"}],
    "order": {"value": null}}},
  {"data": {"values": [{}]}, "mark": {"type": "rule", "color": "#000", "strokeWidth": 1.2}, "encoding": {"x": {"datum": 0.468}, "y": {"datum": 0}, "y2": {"datum": 2}}},
  {"data": {"values": [{}]}, "mark": {"type": "text", "text": "bits", "angle": 270, "font": "Liberation Sans", "fontWeight": "bold", "fontSize": 14.5, "align": "center", "baseline": "middle", "color": "#000"}, "encoding": {"x": {"datum": 0.191}, "y": {"datum": 1.03}}},
  {"data": {"values": [{}]}, "mark": {"type": "text", "text": "5\u2032", "font": "Liberation Sans", "fontWeight": "bold", "fontSize": 17.5, "align": "right", "baseline": "middle", "dy": 19.5, "color": "#000"}, "encoding": {"x": {"datum": 0.468}, "y": {"datum": 0}}},
  {"data": {"values": [{}]}, "mark": {"type": "text", "text": "3\u2032", "font": "Liberation Sans", "fontWeight": "bold", "fontSize": 17.5, "align": "right", "baseline": "middle", "dx": -3, "dy": 18.5, "color": "#000"}, "encoding": {"x": {"datum": 7.717}, "y": {"datum": 0}}},
  {"data": {"values": [{}]}, "mark": {"type": "text", "text": "weblogo.berkeley.edu", "font": "Liberation Sans", "fontSize": 8, "align": "right", "baseline": "middle", "dx": -3, "dy": 35, "color": "#222"}, "encoding": {"x": {"datum": 7.717}, "y": {"datum": 0}}}
 ]}
], "spacing": 0, "bounds": "flush"}
]
}
